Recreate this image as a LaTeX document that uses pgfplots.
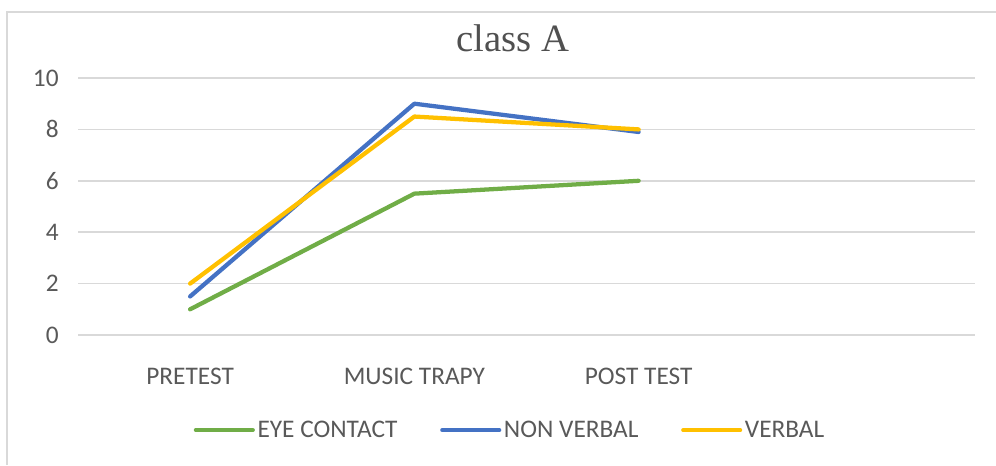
\documentclass[border=0pt]{standalone}
\usepackage{fontspec}
\setmainfont{Carlito}
\newfontfamily\titlefont{Liberation Serif}
\usepackage{pgfplots}
\pgfplotsset{compat=1.18}
\definecolor{cgreen}{HTML}{70AD47}
\definecolor{cblue}{HTML}{4472C4}
\definecolor{cyellow}{HTML}{FFC000}
\definecolor{cgrid}{HTML}{D9D9D9}
\definecolor{ctext}{HTML}{595959}
\begin{document}
\begin{tikzpicture}
\useasboundingbox (0,0) rectangle (747pt,348.75pt);
\draw[cgrid, line width=1pt] (5.25pt,0) -- (5.25pt,339.75pt) -- (747pt,339.75pt);
\begin{axis}[
  at={(58.5pt,97.5pt)}, anchor=south west,
  scale only axis,
  width=672.75pt, height=192.75pt,
  xmin=-0.5, xmax=3.5, ymin=0, ymax=10,
  xtick={0,1,2}, xticklabels={PRETEST,MUSIC TRAPY,POST TEST},
  ytick={0,2,4,6,8,10},
  axis line style={draw=none},
  major tick length=0pt,
  ymajorgrids, grid style={cgrid, line width=1.1pt},
  tick label style={font=\fontsize{19}{21}\selectfont, text=ctext},
  /pgf/number format/assume math mode=true,
  yticklabel style={xshift=-11pt},
  xticklabel style={yshift=-21pt},
  title={\titlefont\fontsize{29}{32}\selectfont class A},
  title style={at={(0.485,1.0)}, anchor=south, yshift=10pt, text=ctext!90!black},
  legend columns=3,
  legend style={at={(0.482,-0.37)}, anchor=center, draw=none, fill=none,
    font=\fontsize{19}{21}\selectfont, text=ctext,
    /tikz/every even column/.append style={column sep=30pt}},
  legend image code/.code={\draw[#1, line width=2.8pt] (0pt,0pt) -- (43pt,0pt);},
  every axis plot/.append style={line width=3.2pt, line join=round, line cap=round},
]
\addplot[cgreen] coordinates {(0,1) (1,5.5) (2,6)};
\addlegendentry{EYE CONTACT}
\addplot[cblue] coordinates {(0,1.5) (1,9) (2,7.9)};
\addlegendentry{NON VERBAL}
\addplot[cyellow] coordinates {(0,2) (1,8.5) (2,8)};
\addlegendentry{VERBAL}
\end{axis}
\end{tikzpicture}
\end{document}
